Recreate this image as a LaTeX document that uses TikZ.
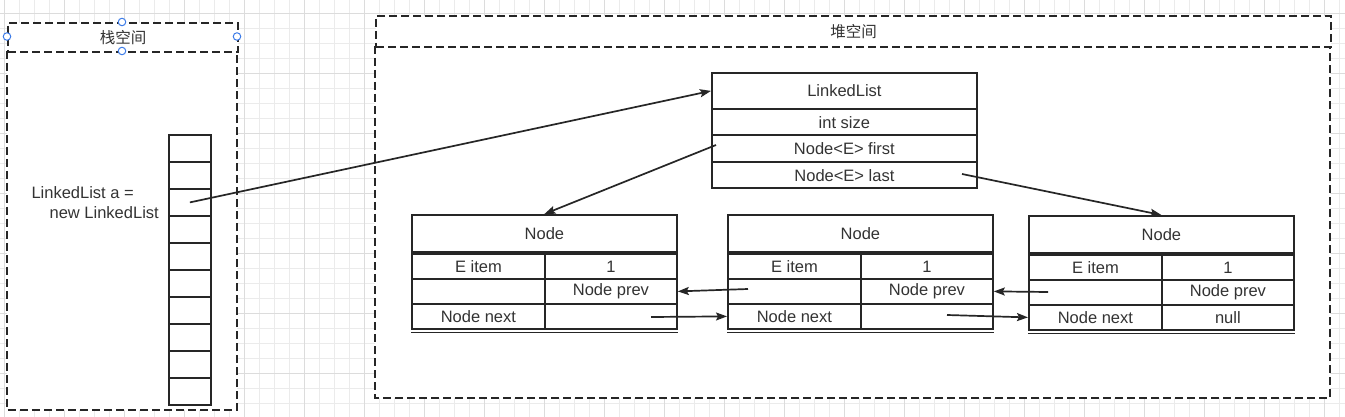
\documentclass[tikz,border=0pt]{standalone}
\usepackage{fontspec}
\setmainfont{Liberation Sans}
\newfontfamily\cjk{Noto Sans CJK SC}
\usetikzlibrary{arrows.meta}
\definecolor{gridminor}{HTML}{EBEBEB}
\definecolor{gridmajor}{HTML}{DCDCDC}
\definecolor{ink}{HTML}{262626}
\definecolor{txt}{HTML}{333333}
\definecolor{handle}{HTML}{3D7CE8}
\tikzset{
  space/.style={draw=ink, fill=white, line width=2pt, dash pattern=on 8pt off 4pt},
  spacetitle/.style={space, inner sep=0pt, anchor=north west, text=txt, font=\cjk\fontsize{15.5}{18}\selectfont},
  cell/.style={draw=ink, line width=1.8pt, text=txt, inner sep=0pt, anchor=north west, font=\fontsize{16.5}{18}\selectfont},
  ptr/.style={draw=ink, line width=1.7pt, -{Stealth[length=11pt,width=8pt,inset=2pt]}},
  handlept/.style={circle, draw=handle, fill=white, line width=1pt, minimum size=7.5pt, inner sep=0pt},
}
\begin{document}
\begin{tikzpicture}[x=1pt,y=-1pt]
  \useasboundingbox (0,0) rectangle (1345,417);
  \fill[white] (0,0) rectangle (1345,417);
  % canvas grid
  \foreach \x in {4,19,...,1339} \draw[gridminor,line width=0.8pt] (\x,0) -- (\x,417);
  \foreach \y in {13.3,28.3,...,417} \draw[gridminor,line width=0.8pt] (0,\y) -- (1345,\y);
  \foreach \x in {4,64,...,1339} \draw[gridmajor,line width=0.8pt] (\x,0) -- (\x,417);
  \foreach \y in {13.3,73.3,...,417} \draw[gridmajor,line width=0.8pt] (0,\y) -- (1345,\y);

  % stack
  \draw[space] (7,51) rectangle (237,410);
  \node[spacetitle, minimum width=230, minimum height=29] (stacktitle) at (7,22) {栈空间};
  \foreach \p [count=\j] in {(122,22),(7,36.5),(237,36.5),(122,51)}
    \node[handlept] (hd\j) at \p {};
  \foreach \k in {0,...,9}
    \node[cell, minimum width=42, minimum height=27] (s\k) at (168,134+27*\k) {};
  \node[align=right, anchor=east, inner sep=0pt, text=txt, font=\fontsize{16.5}{20}\selectfont] (decl) at (159,203)
    {LinkedList a =\hspace*{25pt}\\new LinkedList};

  % heap
  \draw[space] (375,46) rectangle (1330,398);
  \node[spacetitle, minimum width=955, minimum height=31] (heaptitle) at (375,15) {堆空间};

  \node[cell, minimum width=265, minimum height=36] (ll-head) at (711,72) {LinkedList};
  \node[cell, minimum width=265, minimum height=26.5] (ll-size) at (711,108) {int size};
  \node[cell, minimum width=265, minimum height=26.5] (ll-first) at (711,134.5) {Node<E> first};
  \node[cell, minimum width=265, minimum height=26.5] (ll-last) at (711,161) {Node<E> last};

  \foreach \i/\x/\y/\nul in {1/411/214/{}, 2/727/214/{}, 3/1028/215/null} {
    \node[cell, minimum width=265, minimum height=37] (n\i-head) at (\x,\y) {Node};
    \node[cell, minimum width=133, minimum height=25] (n\i-item) at (\x,\y+39) {E item};
    \node[cell, minimum width=132, minimum height=25] (n\i-val) at (\x+133,\y+39) {1};
    \node[cell, minimum width=133, minimum height=25] (n\i-blank) at (\x,\y+64) {};
    \node[cell, minimum width=132, minimum height=25] (n\i-prev) at (\x+133,\y+64) {Node prev};
    \node[cell, minimum width=133, minimum height=25] (n\i-next) at (\x,\y+89) {Node next};
    \node[cell, minimum width=132, minimum height=25] (n\i-tail) at (\x+133,\y+89) {\nul};
    \draw[ink, line width=1.5pt] ([yshift=-2.8pt]n\i-next.south west) -- ([yshift=-2.8pt]n\i-tail.south east);
  }

  % pointers
  \coordinate (first-from) at (716,145);
  \coordinate (last-from) at (962,174);
  \coordinate (prev2-from) at (748,289);
  \coordinate (next1-from) at (651,317);
  \coordinate (prev3-from) at (1048,292);
  \coordinate (next2-from) at (947,315);
  \draw[ptr] (s2.center) -- (ll-head.west);
  \draw[ptr] (first-from) -- (n1-head.north);
  \draw[ptr] (last-from) -- (n3-head.north);
  \draw[ptr] (prev2-from) -- (n1-prev.east);
  \draw[ptr] (next1-from) -- (n2-next.west);
  \draw[ptr] (prev3-from) -- (n2-prev.east);
  \draw[ptr] (next2-from) -- (n3-next.west);
\end{tikzpicture}
\end{document}
